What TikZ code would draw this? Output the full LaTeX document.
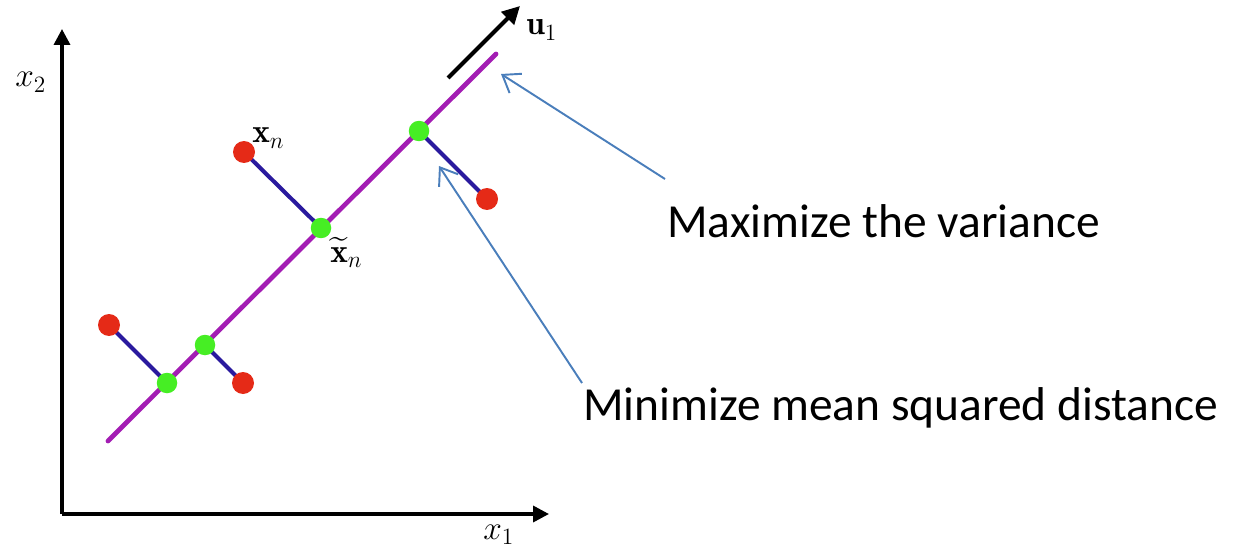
\RequirePackage{fix-cm}
\documentclass[tikz,border=0pt]{standalone}
\usepackage{amsmath,amssymb}
\usepackage{fontspec}
\newfontfamily\calib{Carlito}
\usepackage{xcolor}
\usepackage{tikz}
\usetikzlibrary{arrows.meta,backgrounds}
\definecolor{ptred}{HTML}{E52A17}
\definecolor{ptgreen}{HTML}{46EE24}
\definecolor{projblue}{HTML}{2A1A9E}
\definecolor{pcaline}{HTML}{A31DB3}
\definecolor{notearrow}{HTML}{4A7EBB}

\begin{document}
\begin{tikzpicture}[
  x=0.02cm, y=-0.02cm,
  font=\fontsize{19}{23}\selectfont,
  obs/.style={circle,fill=ptred,inner sep=0pt,minimum size=0.44cm},
  proj/.style={circle,fill=ptgreen,inner sep=0pt,minimum size=0.41cm},
  axis/.style={-{Triangle[length=9pt,width=9pt]},line width=2pt,draw=black},
  dir/.style={-{Triangle[length=10pt,width=10pt]},line width=2.3pt,draw=black},
  perp/.style={line width=2.3pt,draw=projblue},
  princ/.style={line width=2.7pt,draw=pcaline,line cap=round},
  note/.style={-{Straight Barb[length=9pt,width=13pt]},line width=1.1pt,draw=notearrow},
  remark/.style={font=\calib\fontsize{27}{32}\selectfont,anchor=base west,inner sep=0pt}
]
\useasboundingbox (0,0) rectangle (1239,547);
% axes
\coordinate (o) at (62,514);
\coordinate (ytop) at (62,29);
\coordinate (xend) at (549,514);
\draw[axis] (o) -- (ytop);
\draw[axis] (o) -- (xend);
\node[anchor=base west,inner sep=0pt] (x2) at (15,87) {$x_2$};
\node[anchor=base west,inner sep=0pt] (x1) at (483,539) {$x_1$};
% principal direction
\coordinate (lo) at (108,441);
\coordinate (hi) at (496,54);
\coordinate (ustart) at (448,78);
\coordinate (uend) at (520,6);
\draw[dir] (ustart) -- (uend);
\node[anchor=base west,inner sep=0pt] (u1) at (526,35) {$\mathbf{u}_1$};
% data points and projections
\node[proj] (g1) at (167,383) {};
\node[proj] (g2) at (205,345) {};
\node[proj] (g3) at (321,228) {};
\node[proj] (g4) at (419,131) {};
\node[obs]  (r1) at (109,325) {};
\node[obs]  (r2) at (243,383) {};
\node[obs]  (r3) at (244,152) {};
\node[obs]  (r4) at (487,199) {};
\begin{scope}[on background layer]
\draw[princ] (lo) -- (hi);
\draw[perp] (r1.center) -- (g1.center);
\draw[perp] (g2.center) -- (r2.center);
\draw[perp] (r3.center) -- (g3.center);
\draw[perp] (g4.center) -- (r4.center);
\end{scope}
\node[anchor=base west,inner sep=0pt] (xn) at (252,143) {$\mathbf{x}_n$};
\node[anchor=base west,inner sep=0pt] (xtn) at (330,262) {$\widetilde{\mathbf{x}}_n$};
% remarks
\node[remark] (var) at (667,237) {Maximize the variance};
\node[remark] (mse) at (583,420) {Minimize mean squared distance};
\coordinate (vtail) at (665,179);
\coordinate (vtip) at (501,74);
\coordinate (mtail) at (582,383);
\coordinate (mtip) at (439,166);
\draw[note] (vtail) -- (vtip);
\draw[note] (mtail) -- (mtip);
\end{tikzpicture}
\end{document}
